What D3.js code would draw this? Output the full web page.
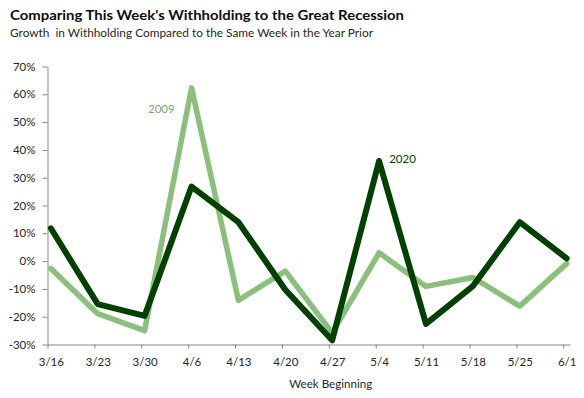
<!DOCTYPE html>
<html>
<head>
<meta charset="utf-8">
<script src="https://cdn.jsdelivr.net/npm/d3@7"></script>
<style>
  html, body { margin: 0; padding: 0; background: #fff; }
  svg { display: block; }
  text { font-family: Lato, "Open Sans", sans-serif; }
</style>
</head>
<body>
<svg id="chart" width="584" height="398"></svg>
<script>
// ---- data ----
const weekLabels = ["3/16","3/23","3/30","4/6","4/13","4/20","4/27","5/4","5/11","5/18","5/25","6/1"];
const series2009 = [-2.7, -18.9, -25, 62.3, -14.1, -3.6, -25.8, 3, -9.1, -5.9, -16.2, -0.9];
const series2020 = [11.8, -15.5, -19.7, 26.8, 14, -10.3, -28.5, 36, -22.6, -9, 14, 1];
const yTicks = [-30, -20, -10, 0, 10, 20, 30, 40, 50, 60, 70];
const titleText = "Comparing This Week's Withholding to the Great Recession";
const subtitleText = "Growth  in Withholding Compared to the Same Week in the Year Prior";
const xTitle = "Week Beginning";

const year = 2020;
const dates = weekLabels.map(s => { const [m, d] = s.split("/").map(Number); return new Date(year, m - 1, d); });
const dayMs = 864e5;
const axisEnd = new Date(dates[dates.length - 1].getTime() + dayMs);

const svg = d3.select("#chart");

const x = d3.scaleTime().domain([dates[0], axisEnd]).range([47.5, 570]);
const y = d3.scaleLinear().domain([-30, 70]).range([344.5, 66.5]);
const mid = d => new Date(d.getTime() + dayMs / 2);
const halfDay = x(mid(dates[0])) - x(dates[0]);

const axisColor = "#878787";
const textColor = "#262626";

// Title
svg.append("text").attr("x", 10).attr("y", 20)
  .attr("font-size", 14).attr("font-weight", "bold").attr("fill", "#0d0d0d")
  .attr("textLength", 394).attr("lengthAdjust", "spacingAndGlyphs")
  .text(titleText);
svg.append("text").attr("x", 10).attr("y", 36.5)
  .attr("font-size", 11.5).attr("fill", textColor)
  .attr("textLength", 363).attr("lengthAdjust", "spacingAndGlyphs")
  .attr("xml:space", "preserve")
  .text(subtitleText);

// Y axis
const yAxis = svg.append("g").attr("transform", "translate(47.5,0)")
  .call(d3.axisLeft(y).tickValues(yTicks).tickSize(5).tickSizeOuter(0).tickPadding(7)
    .tickFormat(d => d + "%"));
yAxis.selectAll("path.domain").attr("stroke", axisColor);
yAxis.selectAll(".tick line").attr("stroke", axisColor);
yAxis.selectAll(".tick text").attr("font-size", 11.5).attr("fill", textColor)
  .attr("font-family", "Lato, 'Open Sans', sans-serif");

// X axis
const xAxis = svg.append("g").attr("transform", "translate(0,344.5)")
  .call(d3.axisBottom(x).tickValues(dates).tickSize(4).tickSizeOuter(0).tickPadding(9.5)
    .tickFormat((d, i) => weekLabels[i]));
xAxis.selectAll("path.domain").attr("stroke", axisColor);
xAxis.selectAll(".tick line").attr("stroke", axisColor);
xAxis.selectAll(".tick text").attr("font-size", 11.5).attr("fill", textColor)
  .attr("x", halfDay)
  .attr("font-family", "Lato, 'Open Sans', sans-serif");

svg.append("text").attr("x", x(mid(dates[6])) - 43).attr("y", 388)
  .attr("font-size", 11.5).attr("fill", textColor)
  .attr("textLength", 83).attr("lengthAdjust", "spacingAndGlyphs")
  .text(xTitle);

// Lines
const line = d3.line().x((d, i) => x(mid(dates[i]))).y(d => y(d));
svg.append("path").datum(series2009).attr("d", line)
  .attr("fill", "none").attr("stroke", "#8abf7c").attr("stroke-width", 5.5)
  .attr("stroke-linejoin", "round").attr("stroke-linecap", "round");
svg.append("path").datum(series2020).attr("d", line)
  .attr("fill", "none").attr("stroke", "#004100").attr("stroke-width", 6)
  .attr("stroke-linejoin", "round").attr("stroke-linecap", "round");

// Series labels
svg.append("text").attr("x", x(new Date(year, 2, 31))).attr("y", y(54.8) + 4.3)
  .attr("font-size", 11.5).attr("fill", "#75ad67").text("2009");
svg.append("text").attr("x", x(new Date(year, 4, 6))).attr("y", y(36.8) + 4.3)
  .attr("font-size", 11.5).attr("fill", "#004100").text("2020");
</script>
</body>
</html>
